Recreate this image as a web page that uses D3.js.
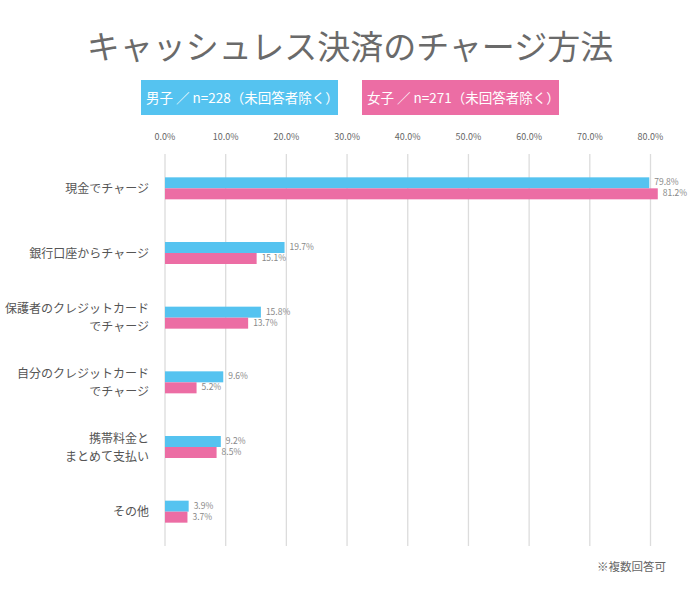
<!DOCTYPE html>
<html><head><meta charset="utf-8">
<script src="https://cdn.jsdelivr.net/npm/d3@7"></script>
<style>body{margin:0;background:#fff}svg{display:block}</style>
</head><body>
<svg id="c" width="700" height="594"></svg>
<script>
const title = "キャッシュレス決済のチャージ方法";
const categories = [
  ["現金でチャージ"],
  ["銀行口座からチャージ"],
  ["保護者のクレジットカード","でチャージ"],
  ["自分のクレジットカード","でチャージ"],
  ["携帯料金と","まとめて支払い"],
  ["その他"]
];
const seriesNames = ["男子 ／ n=228（未回答者除く）", "女子 ／ n=271（未回答者除く）"];
const boys = [79.8, 19.7, 15.8, 9.6, 9.2, 3.9];
const girls = [81.2, 15.1, 13.7, 5.2, 8.5, 3.7];
const ticks = [0,10,20,30,40,50,60,70,80];
const colors = ["#55C3F0", "#EC6DA4"];
const font = "'Noto Sans CJK JP','Noto Sans',sans-serif";

const svg = d3.select("#c");
svg.append("rect").attr("width",700).attr("height",594).attr("fill","#fff");

svg.append("text").attr("x",350).attr("y",59).attr("text-anchor","middle")
  .attr("font-family",font).attr("font-size",33).attr("fill","#6a6a6a").text(title);

// legend
const legX = [141, 362];
seriesNames.forEach((n,i)=>{
  svg.append("rect").attr("x",legX[i]).attr("y",80).attr("width",197).attr("height",35).attr("fill",colors[i]);
  svg.append("text").attr("x",legX[i]+5).attr("y",103).attr("font-family",font).attr("font-size",13.5)
    .attr("fill","#fff").text(n);
});

const x = d3.scaleLinear().domain([0,80]).range([165,650.5]);
const y = d3.scaleBand().domain(d3.range(categories.length)).range([156,544]);

// grid
svg.append("g").selectAll("line").data(ticks).join("line")
  .attr("x1",d=>x(d)).attr("x2",d=>x(d)).attr("y1",154).attr("y2",546)
  .attr("stroke","#dcdcdc").attr("stroke-width",1.3);

// tick labels
svg.append("g").selectAll("text").data(ticks).join("text")
  .attr("x",d=>x(d)).attr("y",140).attr("text-anchor","middle")
  .attr("font-family",font).attr("font-size",9).attr("fill","#666")
  .text(d=>d.toFixed(1)+"%");

const bh = 11;
const series = [boys, girls];
series.forEach((vals,s)=>{
  const g = svg.append("g");
  g.selectAll("rect").data(vals).join("rect")
    .attr("x",x(0)).attr("y",(d,i)=>y(i)+y.bandwidth()/2 - bh + s*bh)
    .attr("width",d=>x(d)-x(0)).attr("height",bh).attr("fill",colors[s]);
  g.selectAll("text").data(vals).join("text")
    .attr("x",d=>x(d)+5).attr("y",(d,i)=>y(i)+y.bandwidth()/2 - bh + s*bh + 8)
    .attr("font-family",font).attr("font-size",8.5).attr("fill","#888")
    .text(d=>d.toFixed(1)+"%");
});

// category labels
categories.forEach((lines,i)=>{
  const cy = y(i)+y.bandwidth()/2;
  const t = svg.append("text").attr("text-anchor","end").attr("font-family",font)
    .attr("font-size",12).attr("fill","#555");
  const n = lines.length;
  lines.forEach((l,k)=>{
    t.append("tspan").attr("x",149).attr("y",cy + 4.5 + (k-(n-1)/2)*18).text(l);
  });
});

svg.append("text").attr("x",666).attr("y",571).attr("text-anchor","end")
  .attr("font-family",font).attr("font-size",11.5).attr("fill","#666").text("※複数回答可");
</script>
</body></html>
